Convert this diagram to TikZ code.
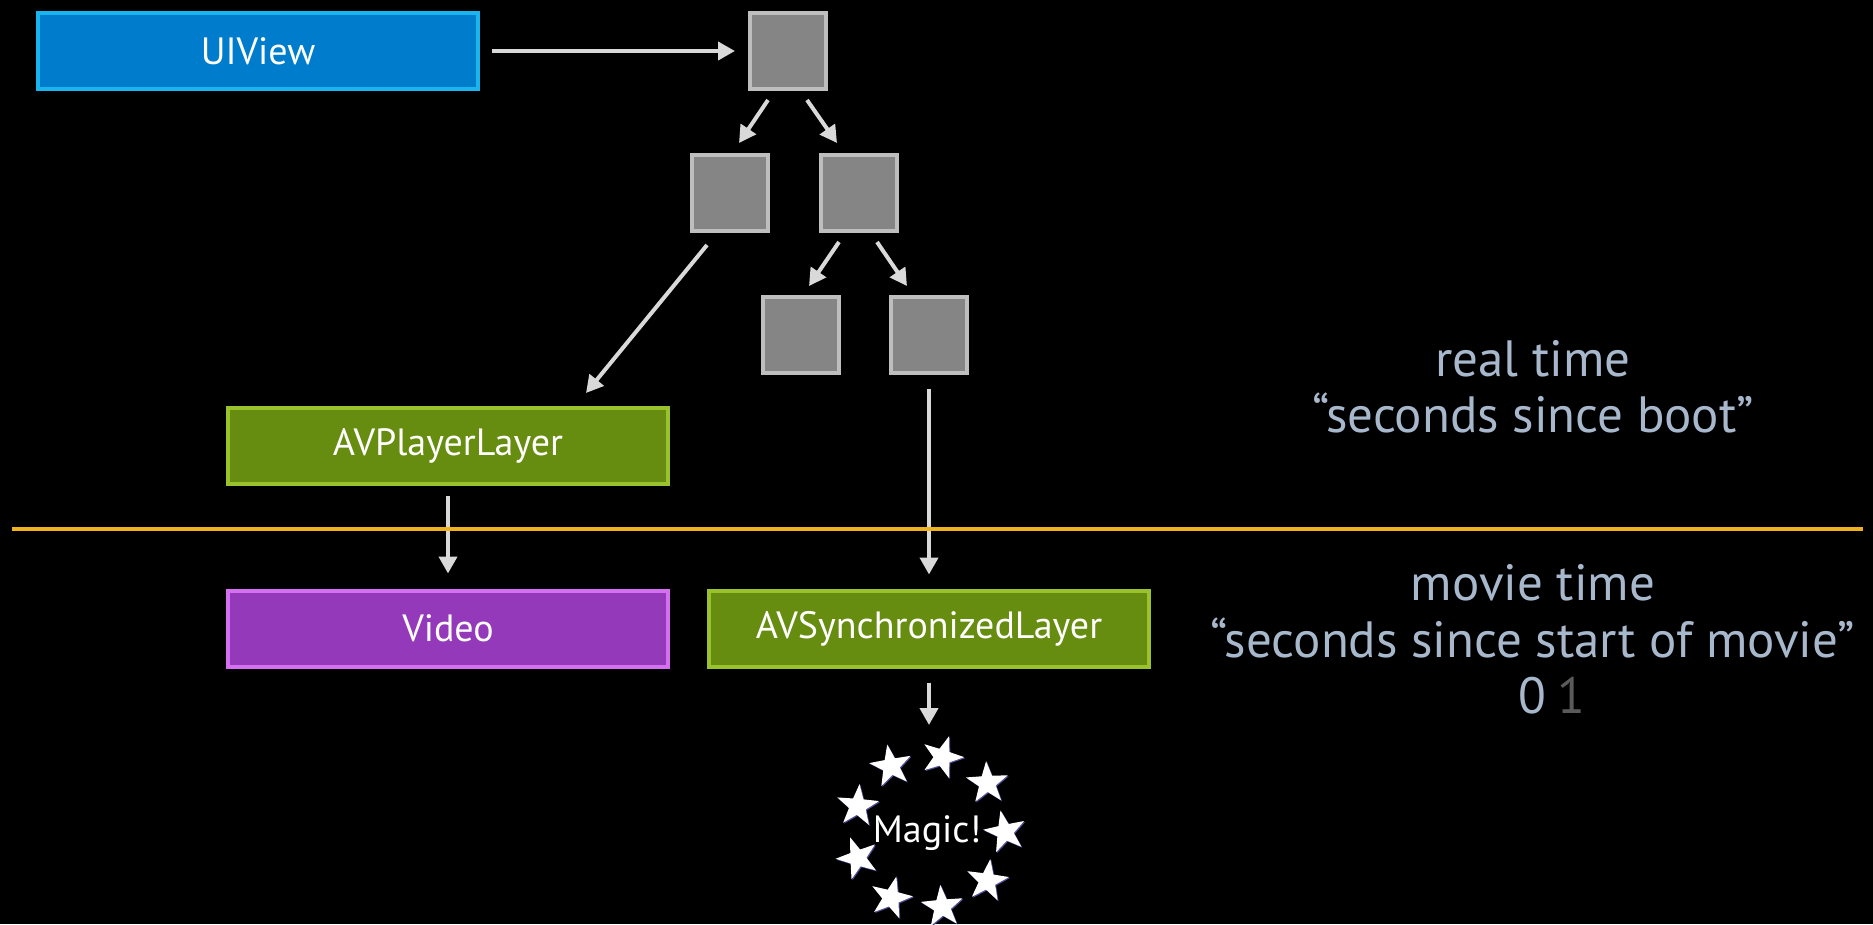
\documentclass[tikz,border=0pt]{standalone}
\usepackage{fontspec}
\setmainfont{PT Sans}
\usepackage{tikz}
\usetikzlibrary{arrows.meta,shapes.geometric}
\usepackage{xcolor}

\definecolor{viewblue}{HTML}{007CCC}
\definecolor{viewedge}{HTML}{1AB4EE}
\definecolor{layergreen}{HTML}{668C10}
\definecolor{layeredge}{HTML}{99C22C}
\definecolor{videopurple}{HTML}{9439BA}
\definecolor{videoedge}{HTML}{D670F2}
\definecolor{sublayer}{HTML}{858585}
\definecolor{subedge}{HTML}{BEBEBE}
\definecolor{linkgray}{HTML}{D9D9D9}
\definecolor{timeline}{HTML}{F0B21E}
\definecolor{timetext}{HTML}{A8B8CC}
\definecolor{dimtext}{HTML}{5A5A5A}
\definecolor{starshade}{HTML}{50509A}

\begin{document}
\begin{tikzpicture}[x=1pt, y=-1pt,
        box/.style={draw, line width=4pt, minimum width=440pt, minimum height=76pt, inner sep=0pt, text=white, font=\fontsize{38}{44}\selectfont},
        sub/.style={draw=subedge, fill=sublayer, line width=4pt, minimum size=76pt, inner sep=0pt},
        link/.style={draw=linkgray, line width=4pt, -{Triangle[length=17pt, width=18pt]}},
        timelabel/.style={text=timetext, anchor=base, font=\fontsize{51}{57}\selectfont},
        starry/.style={star, star points=5, star point ratio=2.5, minimum size=44pt, inner sep=0pt, fill=white}]
        \def\ring{76}; % radius of the star ring
        \def\cx{929}; % centre of the star ring
        \def\cy{832};

        \useasboundingbox (0,0) rectangle (1873,924);
        \fill[black] (0,0) rectangle (1873,924);

        % layer tree
        \node[box, fill=viewblue, draw=viewedge] (uiview) at (258,51) {UIView};
        \node[sub] (root) at (788,51) {};
        \node[sub] (left) at (730,193) {};
        \node[sub] (right) at (858.5,193) {};
        \node[sub] (rightleft) at (800.5,335) {};
        \node[sub] (rightright) at (929,335) {};

        \node[box, fill=layergreen, draw=layeredge] (player) at (448,446) {AVPlayerLayer};
        \node[box, fill=videopurple, draw=videoedge] (video) at (448,628.5) {Video};
        \node[box, fill=layergreen, draw=layeredge] (sync) at (929,628.5) {AVSynchronizedLayer};

        \draw[link, shorten <=12pt, shorten >=13pt] (uiview.east) -- (root.west);
        \draw[link] ([shift={(-20pt,-9pt)}]root.south) -- ([shift={(9pt,10pt)}]left.north);
        \draw[link] ([shift={(19pt,-9pt)}]root.south) -- ([shift={(-21.5pt,10pt)}]right.north);
        \draw[link] ([shift={(-19.5pt,-9pt)}]right.south) -- ([shift={(8.5pt,9pt)}]rightleft.north);
        \draw[link] ([shift={(18.5pt,-9pt)}]right.south) -- ([shift={(-22pt,9pt)}]rightright.north);
        \draw[link] ([shift={(-23pt,-12pt)}]left.south) -- ([shift={(138pt,13pt)}]player.north);
        \draw[link, shorten <=14pt, shorten >=14pt] (rightright.south) -- (sync.north);
        \draw[link, shorten <=10pt, shorten >=15pt] (player.south) -- (video.north);

        % time line
        \draw[timeline, line width=4pt] (12,529) -- (1863,529);

        \node[timelabel] (realtime) at (1533,376) {real time};
        \node[timelabel] (boottime) at (1533,432) {“seconds since boot”};
        \node[timelabel] (movietime) at (1533,600) {movie time};
        \node[timelabel] (moviesec) at (1533,657) {“seconds since start of movie”};
        \node[timelabel] (zero) at (1532,713) {0};
        \node[timelabel, text=dimtext] (one) at (1571,713) {1};

        % magic ring
        \coordinate (ringtop) at (929,725);
        \draw[link, shorten <=14pt] (sync.south) -- (ringtop);

        \foreach \i/\r in {0/12, 1/-8, 2/5, 3/-14, 4/20, 5/-5, 6/10, 7/-18, 8/3} {
            \node[starry, fill=starshade, rotate=\r] at ({\cx+\ring*cos(\i*40)+1},{\cy+\ring*sin(\i*40)+1}) {};
            \node[starry, rotate=\r] (star\i) at ({\cx+\ring*cos(\i*40)},{\cy+\ring*sin(\i*40)}) {};
        }
        \node[text=white, font=\fontsize{38}{44}\selectfont] (magic) at (927,833) {Magic!};
    \end{tikzpicture}
\end{document}
